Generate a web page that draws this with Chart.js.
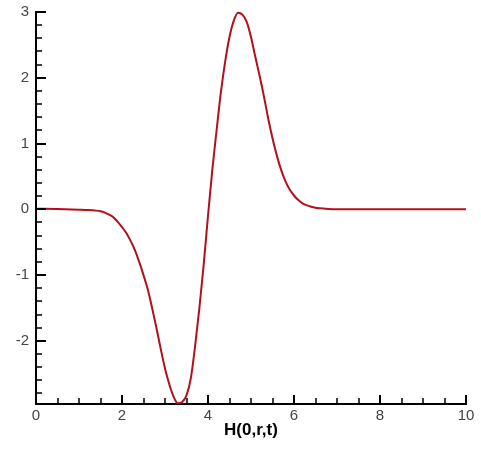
<!DOCTYPE html>
<html>
<head>
<meta charset="utf-8">
<style>
  html, body { margin: 0; padding: 0; background: #fff; }
  canvas { display: block; }
</style>
</head>
<body>
<canvas id="myChart" width="481" height="450"></canvas>
<script src="https://cdn.jsdelivr.net/npm/chart.js@4/dist/chart.umd.min.js"></script>
<script>
// values
const xValues = [0, 0.5, 1.0, 1.2, 1.4, 1.5, 1.6, 1.7, 1.8, 1.9, 2.0, 2.1, 2.2, 2.3, 2.4, 2.5, 2.6, 2.7, 2.8, 2.9,
                 3.0, 3.1, 3.2, 3.3, 3.4, 3.5, 3.6, 3.7, 3.8, 3.9, 4.0, 4.1, 4.2, 4.3, 4.4, 4.5, 4.6, 4.7, 4.8, 4.9,
                 5.0, 5.1, 5.2, 5.3, 5.4, 5.5, 5.6, 5.7, 5.8, 5.9, 6.0, 6.1, 6.2, 6.3, 6.4, 6.5, 6.6, 6.8, 7.0, 8.0, 10.0];
const yValues = [0.01, 0.005, -0.005, -0.01, -0.02, -0.03, -0.05, -0.08, -0.12, -0.19, -0.27, -0.36, -0.48, -0.62, -0.80, -1.00, -1.22, -1.50, -1.80, -2.12,
                 -2.42, -2.66, -2.85, -2.95, -2.93, -2.83, -2.57, -2.08, -1.50, -0.84, -0.10, 0.60, 1.20, 1.78, 2.25, 2.62, 2.87, 2.99, 2.96, 2.85,
                 2.62, 2.32, 2.03, 1.72, 1.38, 1.08, 0.82, 0.60, 0.43, 0.30, 0.21, 0.14, 0.09, 0.06, 0.04, 0.025, 0.015, 0.005, 0.0, 0.0, 0.0];

const xTicks = [0, 2, 4, 6, 8, 10];
const yTicks = [-2, -1, 0, 1, 2, 3];
const xRange = [0, 10];
const yRange = [-2.96, 3];
const xMinorStep = 0.5;
const yMinorStep = 0.2;
const axisTitle = "H(0,r,t)";

// inward major/minor tick marks like the original plot
const innerTicks = {
  id: "innerTicks",
  afterDraw(chart) {
    const { ctx, chartArea: a, scales: { x, y } } = chart;
    ctx.save();
    ctx.strokeStyle = "#000";
    // minor
    ctx.lineWidth = 1.5;
    ctx.beginPath();
    for (let v = xRange[0]; v <= xRange[1] + 1e-6; v += xMinorStep) {
      const px = Math.round(x.getPixelForValue(v));
      ctx.moveTo(px, a.bottom);
      ctx.lineTo(px, a.bottom - 6);
    }
    for (let v = -2.8; v <= yRange[1] + 1e-6; v += yMinorStep) {
      const py = Math.round(y.getPixelForValue(v));
      ctx.moveTo(a.left, py);
      ctx.lineTo(a.left + 6, py);
    }
    ctx.stroke();
    // major
    ctx.lineWidth = 2;
    ctx.beginPath();
    xTicks.forEach(v => {
      const px = Math.round(x.getPixelForValue(v));
      ctx.moveTo(px, a.bottom);
      ctx.lineTo(px, a.bottom - 9);
    });
    yTicks.forEach(v => {
      const py = Math.round(y.getPixelForValue(v));
      ctx.moveTo(a.left, py);
      ctx.lineTo(a.left + 10, py);
    });
    ctx.stroke();
    ctx.restore();
  }
};

const tickFont = { family: "'Liberation Sans', Arial, sans-serif", size: 15 };

new Chart("myChart", {
  type: "line",
  data: {
    datasets: [{
      data: xValues.map((v, i) => ({ x: v, y: yValues[i] })),
      borderColor: "#b3101c",
      borderWidth: 2,
      pointRadius: 0,
      fill: false,
      cubicInterpolationMode: "monotone",
      clip: false
    }]
  },
  options: {
    responsive: false,
    animation: false,
    layout: { padding: { top: 12, right: 15, left: 0, bottom: 0 } },
    plugins: { legend: { display: false }, tooltip: { enabled: false } },
    scales: {
      x: {
        type: "linear",
        min: xRange[0],
        max: xRange[1],
        afterBuildTicks: s => { s.ticks = xTicks.map(v => ({ value: v })); },
        afterFit: s => { s.height = 46; s.paddingLeft = 0; s.paddingRight = 0; },
        grid: { display: false, drawTicks: false },
        border: { display: true, color: "#000", width: 2 },
        ticks: { font: tickFont, color: "#444", padding: 3, maxRotation: 0 },
        title: {
          display: true,
          text: axisTitle,
          color: "#000",
          font: { family: "'Liberation Sans', Arial, sans-serif", size: 17, weight: "bold" },
          padding: { top: 0, bottom: 9 }
        }
      },
      y: {
        type: "linear",
        min: yRange[0],
        max: yRange[1],
        afterBuildTicks: s => { s.ticks = yTicks.map(v => ({ value: v })); },
        afterFit: s => { s.width = 36; s.paddingTop = 0; s.paddingBottom = 0; },
        grid: { display: false, drawTicks: false },
        border: { display: true, color: "#000", width: 2 },
        ticks: { font: tickFont, color: "#444", padding: 7 }
      }
    }
  },
  plugins: [innerTicks]
});
</script>
</body>
</html>
